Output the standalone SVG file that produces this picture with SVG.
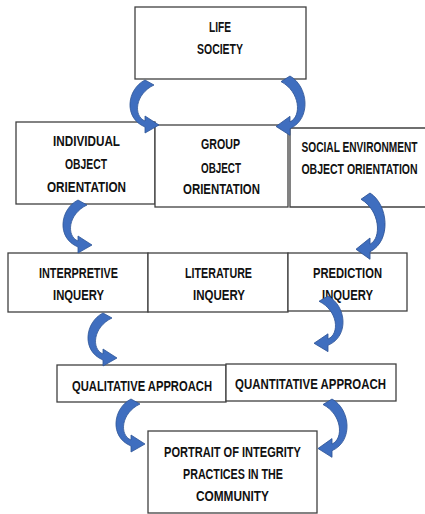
<svg xmlns="http://www.w3.org/2000/svg" width="425" height="514" viewBox="0 0 425 514">
<defs>
<style>
.box{fill:#fff;stroke:#404040;stroke-width:1.3}
.t{font-family:"Liberation Sans",Arial,sans-serif;font-weight:bold;font-size:14px;fill:#111;text-anchor:middle}
.arr{fill:#3F6EBF;stroke:#2F5597;stroke-width:0.8}
</style>
<path id="ca" d="M 19,0 C 1,9 -3,38 19,47 L 19,53 L 33,45 L 19,36 L 19,41 C 7,36 9,14 28,5 Z"/>
</defs>
<rect width="425" height="514" fill="#fff"/>
<g id="life">
<rect class="box" x="135" y="7" width="171" height="72"/>
<text class="t" x="220" y="32" textLength="22" lengthAdjust="spacingAndGlyphs">LIFE</text>
<text class="t" x="220" y="54" textLength="46" lengthAdjust="spacingAndGlyphs">SOCIETY</text>
</g>
<g id="individual">
<rect class="box" x="16" y="122" width="139" height="82"/>
<text class="t" x="86.5" y="146" textLength="67" lengthAdjust="spacingAndGlyphs">INDIVIDUAL</text>
<text class="t" x="86" y="169" textLength="42" lengthAdjust="spacingAndGlyphs">OBJECT</text>
<text class="t" x="86.5" y="192" textLength="79" lengthAdjust="spacingAndGlyphs">ORIENTATION</text>
</g>
<g id="group">
<rect class="box" x="155" y="125" width="133" height="82"/>
<text class="t" x="220.5" y="149" textLength="39" lengthAdjust="spacingAndGlyphs">GROUP</text>
<text class="t" x="221" y="173" textLength="40" lengthAdjust="spacingAndGlyphs">OBJECT</text>
<text class="t" x="221.5" y="194" textLength="77" lengthAdjust="spacingAndGlyphs">ORIENTATION</text>
</g>
<g id="social">
<path class="box" d="M 425,128 H 290 V 207 H 425"/>
<text class="t" transform="translate(359.5,152) scale(0.725,1)">SOCIAL ENVIRONMENT</text>
<text class="t" transform="translate(359.5,174) scale(0.75,1)">OBJECT ORIENTATION</text>
</g>
<g id="interpretive">
<rect class="box" x="8" y="253" width="140" height="59"/>
<text class="t" x="78.5" y="278" textLength="79" lengthAdjust="spacingAndGlyphs">INTERPRETIVE</text>
<text class="t" x="78.5" y="300" textLength="51" lengthAdjust="spacingAndGlyphs">INQUERY</text>
</g>
<g id="literature">
<rect class="box" x="148" y="253" width="140" height="59"/>
<text class="t" x="218.5" y="278" textLength="67" lengthAdjust="spacingAndGlyphs">LITERATURE</text>
<text class="t" x="219" y="300" textLength="52" lengthAdjust="spacingAndGlyphs">INQUERY</text>
</g>
<g id="prediction">
<rect class="box" x="288" y="253" width="119" height="58"/>
<text class="t" x="347.5" y="278" textLength="69" lengthAdjust="spacingAndGlyphs">PREDICTION</text>
<text class="t" x="347.5" y="300" textLength="51" lengthAdjust="spacingAndGlyphs">INQUERY</text>
</g>
<g id="qualitative">
<rect class="box" x="57" y="365" width="169" height="37"/>
<text class="t" x="142" y="391" textLength="140" lengthAdjust="spacingAndGlyphs">QUALITATIVE APPROACH</text>
</g>
<g id="quantitative">
<rect class="box" x="226" y="364" width="170" height="37"/>
<text class="t" x="310.5" y="389" textLength="151" lengthAdjust="spacingAndGlyphs">QUANTITATIVE APPROACH</text>
</g>
<g id="portrait">
<rect class="box" x="148" y="431" width="169" height="82"/>
<text class="t" x="232.5" y="457" textLength="137" lengthAdjust="spacingAndGlyphs">PORTRAIT OF INTEGRITY</text>
<text class="t" x="233" y="479" textLength="100" lengthAdjust="spacingAndGlyphs">PRACTICES IN THE</text>
<text class="t" x="232.5" y="501" textLength="73" lengthAdjust="spacingAndGlyphs">COMMUNITY</text>
</g>
<g id="connectors">
<use href="#ca" class="arr" transform="translate(126,80)"/>
<use href="#ca" class="arr" transform="translate(309,76) scale(-1,1.12)"/>
<use href="#ca" class="arr" transform="translate(59,200)"/>
<use href="#ca" class="arr" transform="translate(389,193) scale(-1,1.25)"/>
<use href="#ca" class="arr" transform="translate(84,313)"/>
<use href="#ca" class="arr" transform="translate(347,296) scale(-1,1.05)"/>
<use href="#ca" class="arr" transform="translate(112,399)"/>
<use href="#ca" class="arr" transform="translate(351,399) scale(-1,1.1)"/>
</g>
</svg>
